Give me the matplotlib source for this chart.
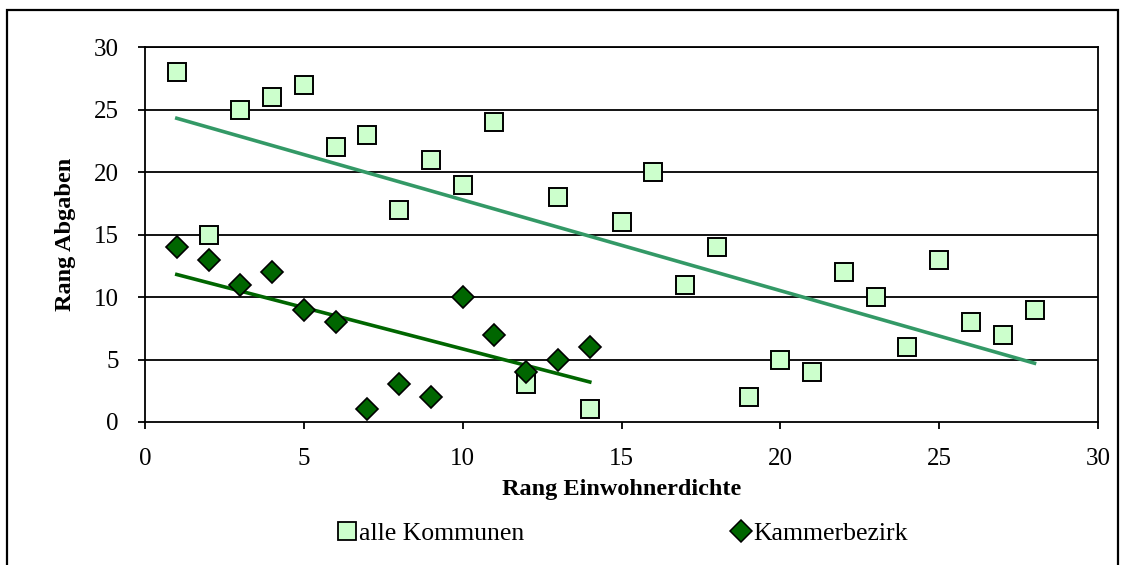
import numpy as np
import matplotlib.pyplot as plt
from matplotlib.lines import Line2D
from matplotlib.patches import Rectangle

# rank data: density rank (x) vs. levy rank (y)
alle_x = np.arange(1, 29)
alle_y = [28, 15, 25, 26, 27, 22, 23, 17, 21, 19, 24, 3, 18, 1,
          16, 20, 11, 14, 2, 5, 4, 12, 10, 6, 13, 8, 7, 9]
kammer_x = np.arange(1, 15)
kammer_y = [14, 13, 11, 12, 9, 8, 1, 3, 2, 10, 7, 4, 5, 6]

labels = ["alle Kommunen", "Kammerbezirk"]

plt.rcParams['font.family'] = ['Liberation Serif', 'DejaVu Serif']

fig = plt.figure(figsize=(11.27, 5.65), dpi=100)
ax = fig.add_axes([0.1287, 0.2531, 0.9743 - 0.1287, 0.9168 - 0.2531])

# outer chart frame
fig.patches.append(Rectangle((7 / 1127, -0.05), (1118 - 7) / 1127, 1.05 - 10 / 565,
                             transform=fig.transFigure, fill=False,
                             edgecolor='black', lw=1.6))

for y in range(5, 31, 5):
    ax.axhline(y, color='black', lw=1.3, zorder=1)

# linear trend lines
p1 = np.polyfit(alle_x, alle_y, 1)
p2 = np.polyfit(kammer_x, kammer_y, 1)
xx1 = np.array([alle_x[0], alle_x[-1]])
xx2 = np.array([kammer_x[0], kammer_x[-1]])
ax.plot(xx1, np.polyval(p1, xx1), color='#339966', lw=2.6, zorder=2)
ax.plot(xx2, np.polyval(p2, xx2), color='#006600', lw=2.6, zorder=2)

ax.plot(alle_x, alle_y, 's', ms=13.5, mfc='#CCFFCC', mec='black', mew=1.4, zorder=3)
ax.plot(kammer_x, kammer_y, 'D', ms=11, mfc='#006600', mec='black', mew=1.2, zorder=4)

ax.set_xlim(0, 30)
ax.set_ylim(0, 30)
ax.set_xticks(range(0, 31, 5))
ax.set_yticks(range(0, 31, 5))
ax.tick_params(direction='out', length=5, width=1.3, labelsize=18, colors='black')
ax.tick_params(axis='x', pad=14)
ax.tick_params(axis='y', pad=14)
for s in ax.spines.values():
    s.set_linewidth(1.3)
    s.set_color('black')

ax.set_xlabel("Rang Einwohnerdichte", fontsize=17.5, fontweight='bold', labelpad=6)
ax.set_ylabel("Rang Abgaben", fontsize=17.5, fontweight='bold', labelpad=13)

handles = [
    Line2D([], [], ls='none', marker='s', ms=13, mfc='#CCFFCC', mec='black', mew=1.3),
    Line2D([], [], ls='none', marker='D', ms=11, mfc='#006600', mec='black', mew=1.1),
]
fig.legend(handles, labels, loc='center', bbox_to_anchor=(0.552, 0.055), ncol=2,
           frameon=False, fontsize=18.5, handlelength=0.8, handletextpad=0.1,
           columnspacing=8.0, borderpad=0)

fig.savefig("out.png", dpi=100)
